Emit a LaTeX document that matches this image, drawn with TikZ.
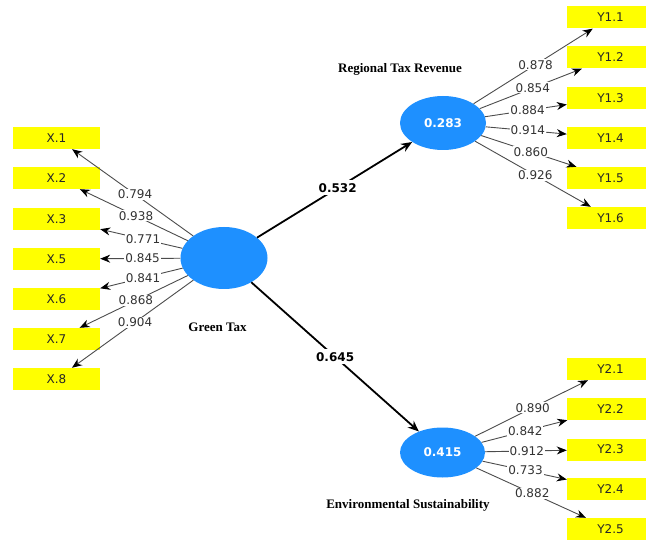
\documentclass[tikz,border=0pt]{standalone}
\usepackage{fontspec}
\setmainfont{Liberation Serif}
\newfontfamily\numfont{DejaVu Sans}
\usetikzlibrary{arrows.meta,shapes.geometric}
\definecolor{lvblue}{RGB}{30,144,255}
\definecolor{mvyellow}{RGB}{255,255,0}

\begin{document}
\begin{tikzpicture}[
    x=1pt, y=-1pt,
    latent/.style={ellipse, fill=lvblue, inner sep=0pt, text=white,
        font=\numfont\fontsize{12}{14}\selectfont\bfseries},
    indic/.style={fill=mvyellow, minimum width=87pt, minimum height=22pt,
        inner sep=0pt, text=black!85, font=\numfont\fontsize{12}{14}\selectfont},
    cname/.style={anchor=base, inner sep=0pt,
        font=\fontsize{13}{15}\selectfont\bfseries},
    load/.style={fill=white, inner sep=1pt, text=black!80,
        font=\numfont\fontsize{12}{14}\selectfont},
    coef/.style={fill=white, inner sep=3pt, text=black,
        font=\numfont\fontsize{12}{14}\selectfont\bfseries},
    outer/.style={-{Stealth[length=10pt, width=8pt, black]}, draw=black!70, line width=0.9pt},
    inner/.style={-{Stealth[length=11pt, width=9pt]}, line width=1.8pt}
]
\useasboundingbox (0,0) rectangle (646,540);

% latent variables
\node[latent, minimum width=87pt, minimum height=62pt] (GT) at (224,258) {};
\node[latent, minimum width=86pt, minimum height=54pt] (RTR) at (443,123) {0.283};
\node[latent, minimum width=85pt, minimum height=50pt] (ES) at (442.5,452.5) {0.415};

\node[cname] at (217.5,332) {Green Tax};
\node[cname] at (400,73) {Regional Tax Revenue};
\node[cname] at (408,508) {Environmental Sustainability};

% indicators of Green Tax
\node[indic] (x1) at (56.5,138) {X.1};
\node[indic] (x2) at (56.5,178) {X.2};
\node[indic] (x3) at (56.5,219) {X.3};
\node[indic] (x5) at (56.5,259) {X.5};
\node[indic] (x6) at (56.5,299) {X.6};
\node[indic] (x7) at (56.5,339) {X.7};
\node[indic] (x8) at (56.5,379) {X.8};

% indicators of Regional Tax Revenue
\node[indic] (y11) at (610.5,17.5) {Y1.1};
\node[indic] (y12) at (610.5,57.5) {Y1.2};
\node[indic] (y13) at (610.5,98) {Y1.3};
\node[indic] (y14) at (610.5,138) {Y1.4};
\node[indic] (y15) at (610.5,178) {Y1.5};
\node[indic] (y16) at (610.5,218) {Y1.6};

% indicators of Environmental Sustainability
\node[indic] (y21) at (610.5,369) {Y2.1};
\node[indic] (y22) at (610.5,409) {Y2.2};
\node[indic] (y23) at (610.5,449.5) {Y2.3};
\node[indic] (y24) at (610.5,489) {Y2.4};
\node[indic] (y25) at (610.5,529) {Y2.5};

% outer loadings
\draw[outer] (GT) -- (x1) node[load, pos=0.48] {0.794};
\draw[outer] (GT) -- (x2) node[load, pos=0.48] {0.938};
\draw[outer] (GT) -- (x3) node[load, pos=0.48] {0.771};
\draw[outer] (GT) -- (x5) node[load, pos=0.47] {0.845};
\draw[outer] (GT) -- (x6) node[load, pos=0.48] {0.841};
\draw[outer] (GT) -- (x7) node[load, pos=0.48] {0.868};
\draw[outer] (GT) -- (x8) node[load, pos=0.48] {0.904};

\draw[outer] (RTR) -- (y11) node[load, pos=0.52] {0.878};
\draw[outer] (RTR) -- (y12) node[load, pos=0.52] {0.854};
\draw[outer] (RTR) -- (y13) node[load, pos=0.52] {0.884};
\draw[outer] (RTR) -- (y14) node[load, pos=0.52] {0.914};
\draw[outer] (RTR) -- (y15) node[load, pos=0.52] {0.860};
\draw[outer] (RTR) -- (y16) node[load, pos=0.52] {0.926};

\draw[outer] (ES) -- (y21) node[load, pos=0.51] {0.890};
\draw[outer] (ES) -- (y22) node[load, pos=0.51] {0.842};
\draw[outer] (ES) -- (y23) node[load, pos=0.51] {0.912};
\draw[outer] (ES) -- (y24) node[load, pos=0.51] {0.733};
\draw[outer] (ES) -- (y25) node[load, pos=0.51] {0.882};

% path coefficients
\draw[inner] (GT) -- (RTR) node[coef, pos=0.52] {0.532};
\draw[inner] (GT) -- (ES) node[coef, pos=0.50] {0.645};
\end{tikzpicture}
\end{document}
